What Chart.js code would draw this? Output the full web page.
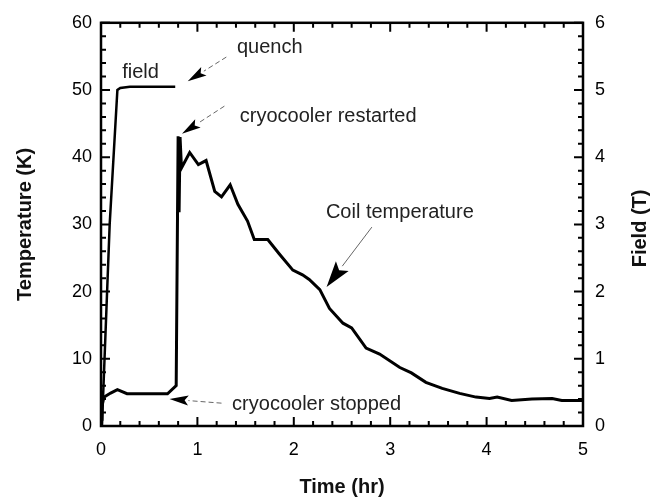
<!DOCTYPE html>
<html>
<head>
<meta charset="utf-8">
<script src="https://cdn.jsdelivr.net/npm/chart.js@4.4.0/dist/chart.umd.min.js"></script>
<style>
html, body { margin: 0; padding: 0; background: #fff; }
</style>
</head>
<body>
<canvas id="mycanvas" width="660" height="501"></canvas>
<script>
// coil temperature (K) vs time (hr)
var tempTime = [0.0, 0.01, 0.03, 0.1, 0.17, 0.27, 0.45, 0.69, 0.78, 0.80, 0.81, 0.82, 0.835, 0.92, 1.01, 1.09, 1.18, 1.25, 1.34, 1.42, 1.52, 1.59, 1.73, 1.85, 1.99, 2.09, 2.16, 2.27, 2.37, 2.51, 2.6, 2.75, 2.89, 3.1, 3.22, 3.37, 3.54, 3.72, 3.89, 4.03, 4.11, 4.26, 4.47, 4.68, 4.78, 5.0];
var tempK = [1.0, 3.0, 4.3, 4.9, 5.4, 4.8, 4.8, 4.8, 6.0, 43.1, 31.8, 43.0, 38.4, 40.7, 38.9, 39.5, 34.9, 34.1, 35.9, 33.0, 30.5, 27.75, 27.75, 25.6, 23.2, 22.5, 21.8, 20.3, 17.5, 15.3, 14.6, 11.6, 10.7, 8.7, 7.9, 6.5, 5.6, 4.85, 4.3, 4.1, 4.3, 3.8, 4.0, 4.1, 3.8, 3.8];

// magnet field (T) vs time (hr)
var fieldTime = [0.01, 0.09, 0.17, 0.2, 0.3, 0.77];
var fieldT = [0, 3.0, 5.0, 5.03, 5.05, 5.05];

// notes: text, text position, arrow start, arrow tip (time, K)
var noteText = ["quench", "field", "cryocooler restarted", "Coil temperature", "cryocooler stopped"];
var noteAt = [[1.75, 56.3], [0.41, 52.6], [1.44, 46.0], [3.1, 31.8], [1.36, 3.2]];
var noteAlign = ["center", "center", "left", "center", "left"];
var arrowFrom = [[1.30, 54.9], null, [1.28, 47.6], [2.81, 29.6], [1.25, 3.4]];
var arrowTip = [[0.90, 51.3], null, [0.84, 43.5], [2.34, 20.7], [0.71, 4.0]];

var fontFam = '"Liberation Sans", Arial, sans-serif';

function pts(xs, ys) {
	var out = [];
	for (var i in xs) {
		out.push({x: xs[i], y: ys[i]});
	}
	return out;
}

var frame = {
	id: 'frame',
	afterDraw: function(chart) {
		var ctx = chart.ctx;
		var a = chart.chartArea;
		var sx = chart.scales.x, sy = chart.scales.y, sy2 = chart.scales.y2;
		ctx.save();
		ctx.strokeStyle = '#000';
		ctx.lineWidth = 2.5;
		ctx.strokeRect(a.left, a.top, a.right - a.left, a.bottom - a.top);

		// inward ticks
		ctx.lineWidth = 2;
		ctx.beginPath();
		var v, p, len;
		for (v = 0; v <= 25; v++) {
			p = sx.getPixelForValue(v * 0.2);
			len = (v % 5 === 0) ? 9 : 5;
			ctx.moveTo(p, a.bottom); ctx.lineTo(p, a.bottom - len);
			ctx.moveTo(p, a.top); ctx.lineTo(p, a.top + len);
		}
		for (v = 0; v <= 30; v++) {
			p = sy.getPixelForValue(v * 2);
			len = (v % 5 === 0) ? 9 : 5;
			ctx.moveTo(a.left, p); ctx.lineTo(a.left + len, p);
		}
		for (v = 0; v <= 30; v++) {
			p = sy2.getPixelForValue(v * 0.2);
			len = (v % 5 === 0) ? 9 : 5;
			ctx.moveTo(a.right, p); ctx.lineTo(a.right - len, p);
		}
		ctx.stroke();

		// right axis title, reading upward
		ctx.save();
		ctx.translate(640, (a.top + a.bottom) / 2 + 4);
		ctx.rotate(-Math.PI / 2);
		ctx.fillStyle = '#111';
		ctx.font = 'bold 20px ' + fontFam;
		ctx.textAlign = 'center';
		ctx.textBaseline = 'middle';
		ctx.fillText('Field (T)', 0, 0);
		ctx.restore();

		// notes
		ctx.font = '20px ' + fontFam;
		ctx.fillStyle = '#222';
		ctx.textBaseline = 'middle';
		for (var i in noteText) {
			ctx.textAlign = noteAlign[i];
			ctx.fillText(noteText[i], sx.getPixelForValue(noteAt[i][0]), sy.getPixelForValue(noteAt[i][1]));
			if (!arrowFrom[i]) continue;
			var x0 = sx.getPixelForValue(arrowFrom[i][0]), y0 = sy.getPixelForValue(arrowFrom[i][1]);
			var x1 = sx.getPixelForValue(arrowTip[i][0]), y1 = sy.getPixelForValue(arrowTip[i][1]);
			var ang = Math.atan2(y1 - y0, x1 - x0);
			var big = noteText[i] === 'Coil temperature';
			var hl = big ? 26 : 19, hw = big ? 8 : 5;
			ctx.save();
			ctx.strokeStyle = '#666';
			ctx.lineWidth = 1;
			if (!big) ctx.setLineDash([5, 3]);
			ctx.beginPath();
			ctx.moveTo(x0, y0);
			ctx.lineTo(x1 - Math.cos(ang) * hl, y1 - Math.sin(ang) * hl);
			ctx.stroke();
			ctx.restore();
			ctx.save();
			ctx.translate(x1, y1);
			ctx.rotate(ang);
			ctx.fillStyle = '#000';
			ctx.beginPath();
			ctx.moveTo(0, 0);
			ctx.lineTo(-hl, -hw);
			ctx.lineTo(-hl * 0.8, 0);
			ctx.lineTo(-hl, hw);
			ctx.closePath();
			ctx.fill();
			ctx.restore();
		}
		ctx.restore();
	}
};

var chartdata = {
	datasets: [
		{
			label: "Temperature",
			data: pts(tempTime, tempK),
			borderColor: "#000",
			borderWidth: 3,
			pointRadius: 0,
			fill: false,
			lineTension: 0,
			yAxisID: 'y'
		},
		{
			label: "Field",
			data: pts(fieldTime, fieldT),
			borderColor: "#000",
			borderWidth: 2.5,
			pointRadius: 0,
			fill: false,
			lineTension: 0,
			yAxisID: 'y2'
		}
	]
};

var ctx = document.getElementById('mycanvas');

var LineGraph = new Chart(ctx, {
	type: 'line',
	data: chartdata,
	plugins: [frame],
	options: {
		responsive: false,
		animation: false,
		devicePixelRatio: 1,
		layout: { padding: { top: 18, left: 0, right: 0, bottom: 0 } },
		plugins: { legend: { display: false }, tooltip: { enabled: false } },
		scales: {
			x: {
				type: 'linear',
				min: 0, max: 5,
				grid: { display: false, drawTicks: false },
				border: { display: false },
				ticks: { stepSize: 1, padding: 13, color: '#000', font: { family: fontFam, size: 18 } },
				title: { display: true, text: 'Time (hr)', color: '#111', padding: { top: 0, bottom: 2 }, font: { family: fontFam, size: 20, weight: 'bold' } },
				afterFit: function(s) { s.height = 75; }
			},
			y: {
				position: 'left',
				min: 0, max: 60,
				grid: { display: false, drawTicks: false },
				border: { display: false },
				ticks: { stepSize: 10, padding: 9, color: '#000', font: { family: fontFam, size: 18 } },
				title: { display: true, text: 'Temperature (K)', color: '#111', padding: { top: 13, bottom: 0 }, font: { family: fontFam, size: 20, weight: 'bold' } },
				afterFit: function(s) { s.width = 101; }
			},
			y2: {
				position: 'right',
				min: 0, max: 6,
				grid: { display: false, drawTicks: false },
				border: { display: false },
				ticks: { stepSize: 1, padding: 12, color: '#000', font: { family: fontFam, size: 18 } },
				afterFit: function(s) { s.width = 77; }
			}
		}
	}
});
</script>
</body>
</html>
